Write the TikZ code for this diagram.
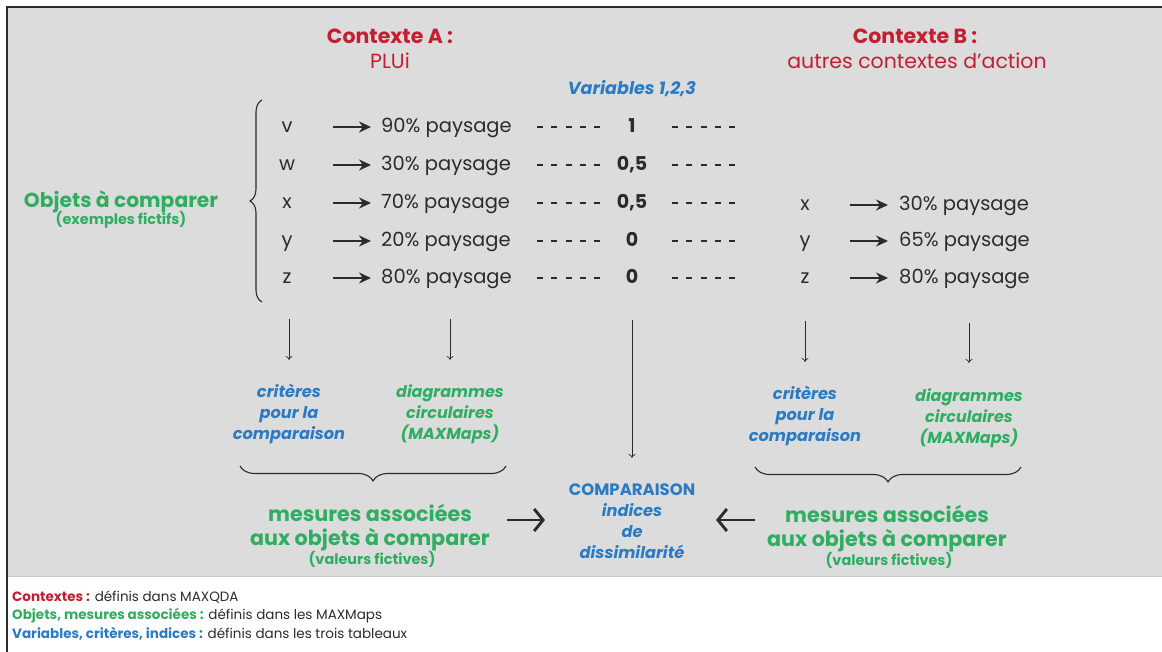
\documentclass[tikz,border=0pt]{standalone}
\usepackage{fontspec}
\setmainfont{Poppins}
\usetikzlibrary{arrows.meta,decorations.pathreplacing}
\definecolor{cred}{HTML}{C21F32}
\definecolor{cgreen}{HTML}{2FAE62}
\definecolor{cblue}{HTML}{2A7BC3}
\definecolor{cbg}{HTML}{DCDCDC}
\definecolor{ctext}{HTML}{2B2B2B}
\begin{document}
\begin{tikzpicture}[x=1pt,y=-1pt,
  title/.style={font=\bfseries\fontsize{20.5}{24}\selectfont, text=cred, anchor=base, inner sep=0pt},
  subt/.style={font=\fontsize{20.5}{24}\selectfont, text=cred, anchor=base, inner sep=0pt},
  rowtxt/.style={font=\fontsize{19.5}{22}\selectfont, text=ctext, inner sep=0pt},
  letter/.style={rowtxt, anchor=base, minimum width=20pt},
  pct/.style={rowtxt, anchor=base west},
  val/.style={font=\bfseries\fontsize{19}{22}\selectfont, text=ctext, anchor=base, inner sep=0pt},
  harrow/.style={line width=1.9pt, draw=ctext, -{Stealth[length=12pt,width=11pt]}},
  dashl/.style={line width=1.4pt, draw=ctext, dash pattern=on 6pt off 8.25pt},
  darrow/.style={line width=0.7pt, draw=ctext, -{To[length=4pt,width=7pt]}},
  crit/.style={font=\bfseries\itshape\fontsize{16.2}{21}\selectfont, text=cblue, align=center, inner sep=0pt},
  diag/.style={font=\bfseries\itshape\fontsize{16}{21}\selectfont, text=cgreen, align=center, inner sep=0pt},
  mes/.style={font=\bfseries\fontsize{20.7}{24}\selectfont, text=cgreen, align=center, inner sep=0pt},
  small/.style={font=\bfseries\fontsize{14.4}{16}\selectfont, text=cgreen, anchor=base, inner sep=0pt},
  bigarrow/.style={line width=2.9pt, draw=ctext, -{Straight Barb[length=9pt,width=22pt]}},
  bracel/.style={line width=1.1pt, draw=ctext, decorate, decoration={brace, amplitude=#1}},
  legend/.style={font=\fontsize{13.5}{16}\selectfont, text=ctext, anchor=base west, inner sep=0pt}
]
\useasboundingbox (0,0) rectangle (1162,652);
\fill[cbg] (8,8) rectangle (1162,576);
\draw[line width=1pt, draw=black!22] (8,576.5) -- (1162,576.5);
\draw[line width=2.2pt, draw=ctext] (7,652) -- (7,7) -- (1162,7);

% titles
\node[title] (ctxA) at (390,44) {Contexte A :};
\node[subt] (plui) at (390,69) {PLUi};
\node[title] (ctxB) at (915,44) {Contexte B :};
\node[subt] (autres) at (917,69) {autres contextes d'action};
\node[font=\bfseries\itshape\fontsize{17.5}{20}\selectfont, text=cblue, anchor=base, inner sep=0pt] (vars) at (632,95) {Variables 1,2,3};

% left label
\node[font=\bfseries\fontsize{20.3}{24}\selectfont, text=cgreen, anchor=base, inner sep=0pt] (objets) at (121,208) {Objets à comparer};
\node[small] (exemples) at (121,225) {(exemples fictifs)};
\draw[bracel=12pt] (262,302) -- (262,100);

% context A rows
\foreach \n/\l/\p/\v/\y in {1/v/90/1/133, 2/w/30/{0,5}/171, 3/x/70/{0,5}/209, 4/y/20/0/247, 5/z/80/0/284}{
  \node[letter] (l\n) at (287,\y) {\l};
  \node[pct] (p\n) at (381,\y) {\p\% paysage};
  \node[val] (v\n) at (632,\y) {\v};
  \draw[harrow, shorten <=36pt, shorten >=10pt] ([yshift=6pt]l\n.base east) -- ([yshift=6pt]p\n.base west);
  \draw[dashl] ([xshift=-95pt,yshift=6pt]v\n.base) -- ([xshift=-32pt,yshift=6pt]v\n.base);
  \draw[dashl] ([xshift=40pt,yshift=6pt]v\n.base) -- ([xshift=103pt,yshift=6pt]v\n.base);
}
\foreach \n/\l/\p/\y in {3/x/30/211, 4/y/65/247, 5/z/80/284}{
  \node[letter] (r\n) at (805,\y) {\l};
  \node[pct] (q\n) at (899,\y) {\p\% paysage};
  \draw[harrow, shorten <=35pt, shorten >=11pt] ([yshift=6pt]r\n.base east) -- ([yshift=6pt]q\n.base west);
}

% criteria
\node[crit] (critA) at (289,414) {critères\\pour la\\comparaison};
\node[diag] (diagA) at (450,414) {diagrammes\\circulaires\\(MAXMaps)};
\node[crit] (critB) at (805,416) {critères\\pour la\\comparaison};
\node[diag] (diagB) at (969,418) {diagrammes\\circulaires\\(MAXMaps)};

\draw[darrow] (critA.north |- 0,319) -- (critA.north |- 0,360);
\draw[darrow] (diagA.north |- 0,319) -- (diagA.north |- 0,360);
\draw[darrow] (critB.north |- 0,321) -- (critB.north |- 0,362);
\draw[darrow] (diagB.north |- 0,323) -- (diagB.north |- 0,363);

% braces bottom
\draw[bracel=15pt] (506,466) -- (240,466);
\draw[bracel=15pt] (1021,467) -- (755,467);

% mesures
\node[mes] (mesA) at (370,528) {mesures associées\\aux objets à comparer};
\node[small] (valA) at (372,564) {(valeurs fictives)};
\node[mes] (mesB) at (887,529) {mesures associées\\aux objets à comparer};
\node[small] (valB) at (889,565) {(valeurs fictives)};

% comparaison
\node[font=\bfseries\fontsize{16.5}{19}\selectfont, text=cblue, anchor=base, inner sep=0pt] (comp) at (632,495) {COMPARAISON};
\node[crit, anchor=north] (indices) at (632,503) {indices\\de\\dissimilarité};
\draw[darrow] (v5.south |- 0,320) -- (comp.north |- 0,458);

\coordinate (la1) at (507,520);
\coordinate (la2) at (545,520);
\coordinate (ra1) at (755,520);
\coordinate (ra2) at (716,520);
\draw[bigarrow] (la1) -- (la2);
\draw[bigarrow] (ra1) -- (ra2);

% legend
\node[legend] (leg1) at (12,601) {\textcolor{cred}{\bfseries Contextes :} définis dans MAXQDA};
\node[legend] (leg2) at (12,619) {\textcolor{cgreen}{\bfseries Objets, mesures associées :} définis dans les MAXMaps};
\node[legend] (leg3) at (12,638) {\textcolor{cblue}{\bfseries Variables, critères, indices :} définis dans les trois tableaux};
\end{tikzpicture}
\end{document}
